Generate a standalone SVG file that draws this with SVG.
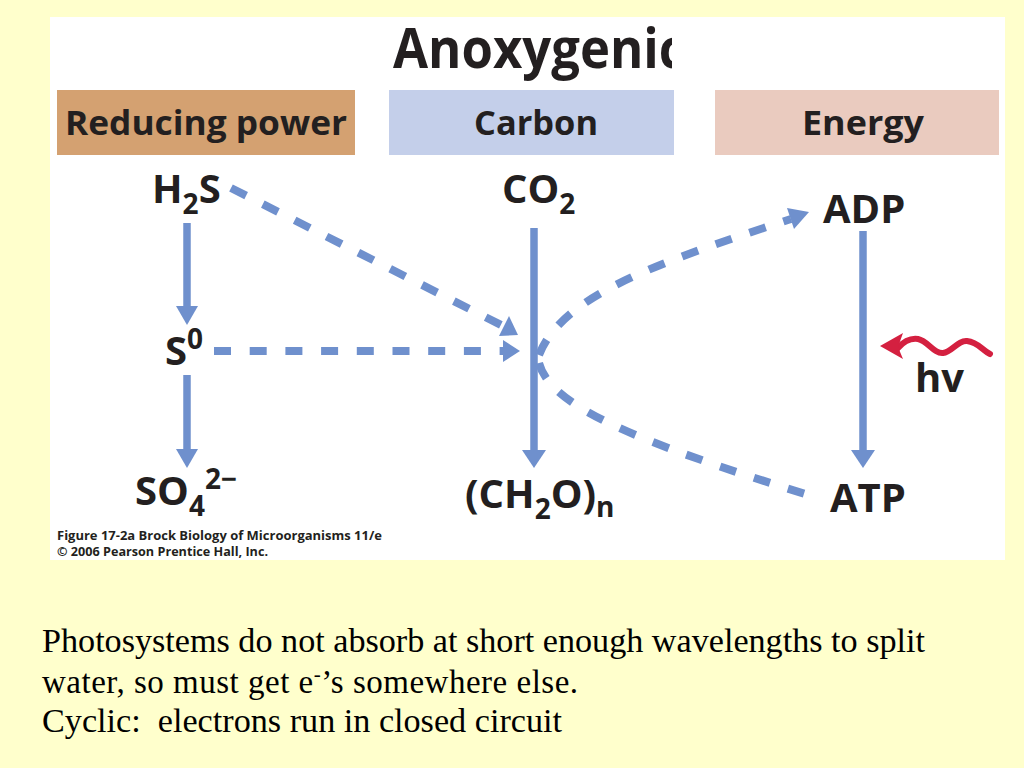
<svg xmlns="http://www.w3.org/2000/svg" width="1024" height="768" viewBox="0 0 1024 768">
<style>
.lbl{font-family:"Open Sans","DejaVu Sans",sans-serif;font-weight:bold;fill:#231F20;}
.node{font-size:40px;}
.sub{font-size:28px;}
.hdr{font-size:34px;}
.cap{font-family:"Open Sans","DejaVu Sans",sans-serif;font-weight:bold;font-size:13px;fill:#231F20;}
.body{font-family:"Liberation Serif","Times New Roman",serif;font-size:33px;fill:#000;}
.solid{stroke:#6F90CD;stroke-width:7.5;fill:none;}
.dash{stroke:#6F90CD;stroke-width:8;fill:none;stroke-dasharray:17 18.7;}
.head{fill:#6F90CD;}
</style>
<defs>
<clipPath id="titleClip"><rect x="380" y="20" width="292" height="70"/></clipPath>
</defs>
<rect x="0" y="0" width="1024" height="768" fill="#FFFFCC"/>
<rect x="50" y="17" width="955" height="543" fill="#FFFFFF"/>

<g id="title">
<text class="lbl" x="393" y="68" font-size="55" font-weight="800" textLength="292" lengthAdjust="spacingAndGlyphs" clip-path="url(#titleClip)">Anoxygenic</text>
</g>

<g id="hdr-reducing">
<rect x="57" y="90" width="298" height="65" fill="#D4A171"/>
<text class="lbl hdr" x="65" y="135" textLength="282" lengthAdjust="spacingAndGlyphs">Reducing power</text>
</g>
<g id="hdr-carbon">
<rect x="389" y="90" width="285" height="65" fill="#C4CFEA"/>
<text class="lbl hdr" x="474" y="135" textLength="124" lengthAdjust="spacingAndGlyphs">Carbon</text>
</g>
<g id="hdr-energy">
<rect x="715" y="90" width="284" height="65" fill="#EACBBF"/>
<text class="lbl hdr" x="802" y="135" textLength="122" lengthAdjust="spacingAndGlyphs">Energy</text>
</g>

<g id="connectors">
<!-- solid arrows -->
<line class="solid" x1="187" y1="223" x2="187" y2="310"/>
<polygon class="head" points="176,306 198,306 187,325"/>
<line class="solid" x1="187" y1="375" x2="187" y2="452"/>
<polygon class="head" points="176,449 198,449 187,468"/>
<line class="solid" x1="534" y1="228" x2="534" y2="452"/>
<polygon class="head" points="522,450 546,450 534,468"/>
<line class="solid" x1="863" y1="231" x2="863" y2="452"/>
<polygon class="head" points="851,450 875,450 863,468"/>
<!-- dashed arrows -->
<line class="dash" x1="231" y1="188" x2="503" y2="326"/>
<polygon class="head" points="518,335 509,316 499,336"/>
<line class="dash" x1="214" y1="351" x2="505" y2="351"/>
<polygon class="head" points="520,351 503,340 503,362"/>
<path class="dash" d="M539,355 C562,297 650,265 791,219"/>
<polygon class="head" points="809,212 787,208 794,229"/>
<path class="dash" d="M539,363 C550,405 630,440 815,497"/>
<!-- light -->
<path d="M898,348 C905,340 911,338 918,339 C928,341 934,354 943,353 C952,352 958,340 967,341 C978,342 982,350 990,354" stroke="#D42040" stroke-width="6" fill="none" stroke-linecap="round"/>
<polygon points="880,346 903,333 898,347 903,359" fill="#D42040"/>
</g>

<g id="node-h2s"><text class="lbl node" x="152" y="203">H<tspan class="sub" y="214">2</tspan><tspan y="203">S</tspan></text></g>
<g id="node-s0"><text class="lbl node" x="165" y="365">S<tspan class="sub" y="349">0</tspan></text></g>
<g id="node-so4"><text class="lbl node" x="135" y="505">SO<tspan class="sub" y="516">4</tspan><tspan class="sub" y="489">2−</tspan></text></g>
<g id="node-co2"><text class="lbl node" x="502" y="203">CO<tspan class="sub" y="214">2</tspan></text></g>
<g id="node-ch2o"><text class="lbl node" x="465" y="508">(CH<tspan class="sub" y="519">2</tspan><tspan y="508">O)</tspan><tspan class="sub" y="517">n</tspan></text></g>
<g id="node-adp"><text class="lbl node" x="823" y="223">ADP</text></g>
<g id="node-atp"><text class="lbl node" x="830" y="512">ATP</text></g>
<g id="node-hv"><text class="lbl node" x="915" y="392">hv</text></g>

<g id="caption">
<text class="cap" x="57" y="540" textLength="325" lengthAdjust="spacingAndGlyphs">Figure 17-2a  Brock Biology of Microorganisms 11/e</text>
<text class="cap" x="57" y="556" textLength="211" lengthAdjust="spacingAndGlyphs">© 2006 Pearson Prentice Hall, Inc.</text>
</g>

<g id="notes">
<text class="body" x="42" y="652" textLength="883" lengthAdjust="spacingAndGlyphs">Photosystems do not absorb at short enough wavelengths to split</text>
<text class="body" x="42" y="693" letter-spacing="0.5">water, so must get e<tspan font-size="21" dy="-12">-</tspan><tspan dy="12">’s somewhere else.</tspan></text>
<text class="body" x="42" y="732" xml:space="preserve" textLength="520" lengthAdjust="spacingAndGlyphs">Cyclic:  electrons run in closed circuit</text>
</g>
</svg>
